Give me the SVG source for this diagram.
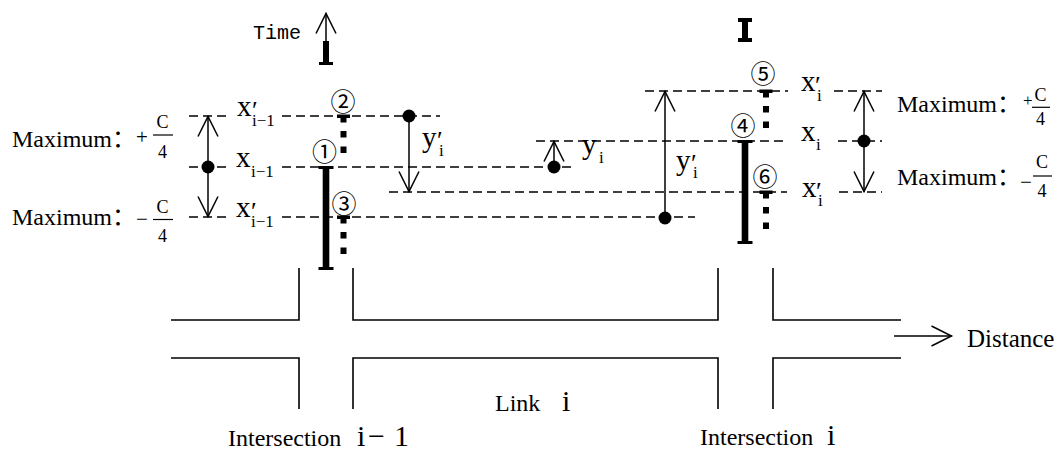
<svg xmlns="http://www.w3.org/2000/svg" width="1060" height="450" viewBox="0 0 1060 450">
<style>
text { font-family: "Liberation Serif", "Times New Roman", serif; fill: #000; }
.dash { stroke: #000; stroke-width: 1.5; stroke-dasharray: 9 5; fill: none; }
.arr { stroke: #000; stroke-width: 1.5; fill: none; marker-end: url(#open); }
.road { stroke: #000; stroke-width: 1.6; fill: none; }
.fbar { stroke: #000; stroke-width: 1.2; }
.lbl { font-size: 29px; }
.sub { font-size: 17px; }
.pr { font-size: 26px; }
.max { font-size: 24px; }
.frac { font-size: 18px; text-anchor: middle; }
.circ { font-family: "Noto Sans CJK SC", "DejaVu Sans", sans-serif; font-size: 25px; text-anchor: middle; }
.cjk { font-family: "Noto Sans CJK SC", sans-serif; }
.big { font-size: 30px; }
.txt { font-size: 24px; }
.sign { font-size: 21px; }
</style>
<defs>
<marker id="open" markerUnits="userSpaceOnUse" markerWidth="30" markerHeight="30" viewBox="-25 -15 30 30" refX="0" refY="0" orient="auto" overflow="visible">
<path d="M-20,-10 L0,0 L-20,10" fill="none" stroke="#000" stroke-width="1.5"/>
</marker>
<g id="dotbar">
<rect x="-6.5" y="-1.5" width="13" height="3.5"/>
<rect x="-3" y="0" width="6" height="6.5"/>
<rect x="-3" y="15" width="6" height="6.5"/>
<rect x="-3" y="30.5" width="6" height="6.5"/>
</g>
<g id="ibar">
<rect x="-7.5" y="-1" width="15" height="3"/>
<rect x="-3.3" y="0" width="6.6" height="102"/>
<rect x="-7.5" y="100" width="15" height="3"/>
</g>
</defs>

<g id="connectors">
<path class="dash" d="M189,116 H231 M282,116 H440"/>
<path class="dash" d="M189,167 H231 M282,167 H573"/>
<path class="dash" d="M189,217 H231 M282,217 H695"/>
<path class="dash" d="M389,192 H787 M839,192 H882"/>
<path class="dash" d="M645,91 H788 M834,91 H882"/>
<path class="dash" d="M536,141 H787 M838,141 H882"/>
<line class="arr" x1="208" y1="167" x2="208" y2="116.5"/>
<line class="arr" x1="208" y1="167" x2="208" y2="216.5"/>
<line class="arr" x1="409" y1="116" x2="409" y2="191.5"/>
<line class="arr" x1="554" y1="167" x2="554" y2="141.5"/>
<line class="arr" x1="665" y1="217" x2="665" y2="91.5"/>
<line class="arr" x1="864" y1="141" x2="864" y2="91.5"/>
<line class="arr" x1="864" y1="141" x2="864" y2="191.5"/>
<line class="arr" x1="326" y1="41" x2="326" y2="13.5"/>
<line class="arr" x1="894" y1="336" x2="951.5" y2="336"/>
<circle cx="208" cy="167" r="6.5"/>
<circle cx="409" cy="116" r="6.5"/>
<circle cx="554" cy="167" r="6.5"/>
<circle cx="665" cy="218" r="6.5"/>
<circle cx="864" cy="141" r="6.5"/>
</g>

<g id="time-axis">
<rect x="323" y="41" width="6" height="23"/>
<rect x="319" y="62" width="14" height="3"/>
<text x="253" y="39" style="font-family:'Liberation Mono',monospace;font-size:20px">Time</text>
</g>

<g id="legend-bar">
<rect x="742" y="20" width="6" height="20"/>
<rect x="738" y="18" width="14" height="4"/>
<rect x="738" y="38" width="14" height="4"/>
</g>

<g id="roads">
<path class="road" d="M171,320 H299 V268"/>
<path class="road" d="M353,268 V320 H718 V268"/>
<path class="road" d="M773,268 V320 H901"/>
<path class="road" d="M171,358 H299 V409"/>
<path class="road" d="M353,409 V358 H718 V409"/>
<path class="road" d="M773,409 V358 H901"/>
</g>

<g id="node-1">
<use href="#ibar" transform="translate(326,167)"/>
<text class="circ" x="324.5" y="161">①</text>
</g>
<g id="node-2">
<use href="#dotbar" transform="translate(343.5,116)"/>
<text class="circ" x="343" y="111">②</text>
</g>
<g id="node-3">
<use href="#dotbar" transform="translate(343.5,217)"/>
<text class="circ" x="344" y="213">③</text>
</g>
<g id="node-4">
<use href="#ibar" transform="translate(745,141)"/>
<text class="circ" x="743" y="135">④</text>
</g>
<g id="node-5">
<use href="#dotbar" transform="translate(766,91)"/>
<text class="circ" x="763" y="83">⑤</text>
</g>
<g id="node-6">
<use href="#dotbar" transform="translate(766,192)"/>
<text class="circ" x="765" y="186">⑥</text>
</g>

<g id="labels-left">
<text class="lbl" x="237" y="116">x</text>
<text class="pr" x="252" y="119">′</text>
<text class="sub" x="252" y="126">i−1</text>
<text class="lbl" x="236" y="167">x</text>
<text class="sub" x="251" y="177">i−1</text>
<text class="lbl" x="236" y="217">x</text>
<text class="pr" x="251" y="220">′</text>
<text class="sub" x="251" y="227">i−1</text>
</g>

<g id="labels-right">
<text class="lbl" x="801" y="91">x</text>
<text class="pr" x="815" y="94">′</text>
<text class="sub" x="817" y="101">i</text>
<text class="lbl" x="801" y="141">x</text>
<text class="sub" x="816" y="150">i</text>
<text class="lbl" x="802" y="197">x</text>
<text class="pr" x="816" y="200">′</text>
<text class="sub" x="818" y="206">i</text>
</g>

<g id="labels-y">
<text class="lbl" x="422" y="147">y</text>
<text class="pr" x="437" y="149">′</text>
<text class="sub" x="439" y="156">i</text>
<text class="lbl" x="582" y="154">y</text>
<text class="sub" x="599" y="163">i</text>
<text class="lbl" x="676" y="170">y</text>
<text class="pr" x="691" y="172">′</text>
<text class="sub" x="693" y="178">i</text>
</g>

<g id="max-left-top">
<text class="max" x="12" y="147">Maximum<tspan class="cjk">：</tspan></text>
<text class="sign" x="136" y="144">+</text>
<text class="frac" x="162.5" y="128">C</text>
<line class="fbar" x1="153" y1="135" x2="173" y2="135"/>
<text class="frac" x="162.5" y="158">4</text>
</g>
<g id="max-left-bottom">
<text class="max" x="12" y="225">Maximum<tspan class="cjk">：</tspan></text>
<text class="sign" x="136" y="226">−</text>
<text class="frac" x="162.5" y="212.5">C</text>
<line class="fbar" x1="153" y1="219.5" x2="173" y2="219.5"/>
<text class="frac" x="162.5" y="241.5">4</text>
</g>
<g id="max-right-top">
<text class="max" x="897" y="112">Maximum<tspan class="cjk">：</tspan></text>
<text x="1023" y="106" style="font-size:17px">+</text>
<text class="frac" x="1040.5" y="101">C</text>
<line class="fbar" x1="1032" y1="107.3" x2="1050" y2="107.3"/>
<text class="frac" x="1040.5" y="125">4</text>
</g>
<g id="max-right-bottom">
<text class="max" x="897" y="185">Maximum<tspan class="cjk">：</tspan></text>
<text class="sign" x="1020" y="189">−</text>
<text class="frac" x="1042" y="168">C</text>
<line class="fbar" x1="1033" y1="176" x2="1052" y2="176"/>
<text class="frac" x="1042" y="197">4</text>
</g>

<g id="captions">
<text x="967" y="347" style="font-size:25px">Distance</text>
<text class="txt" x="495" y="411">Link</text>
<text class="big" x="562" y="411">i</text>
<text class="txt" x="228" y="446">Intersection</text>
<text class="big" x="357" y="446">i</text>
<text class="big" x="368" y="446">−</text>
<text class="big" x="394" y="446">1</text>
<text class="txt" x="700" y="445">Intersection</text>
<text class="big" x="827" y="445">i</text>
</g>
</svg>
